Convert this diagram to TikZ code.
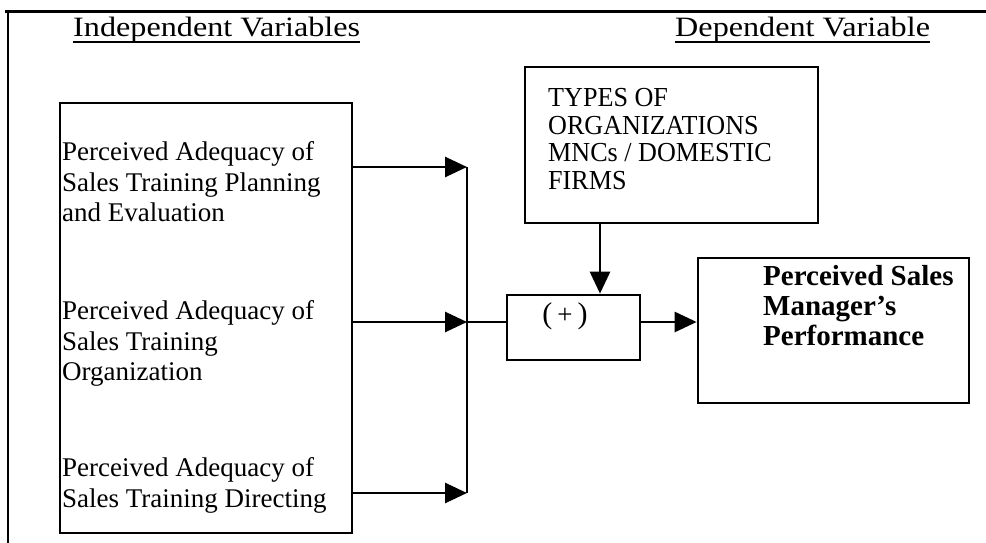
\documentclass[tikz,border=0pt]{standalone}
\usepackage{fontspec}
\setmainfont{Liberation Serif}
\newfontfamily\wideserif[FakeStretch=1.15]{Liberation Serif}
\newfontfamily\narrowserif[FakeStretch=0.95]{Liberation Serif}
\usetikzlibrary{arrows.meta}
\begin{document}
\begin{tikzpicture}[x=1pt,y=-1pt,
  box/.style={draw,line width=2.7pt,inner sep=0pt},
  conn/.style={line width=2.7pt},
  arr/.style={line width=2.7pt,-{Triangle[length=22pt,width=20pt]}},
  head/.style={anchor=base west,inner sep=0pt,font=\wideserif\fontsize{28}{30}\selectfont},
  bodytext/.style={anchor=north west,inner sep=0pt,align=left,font=\fontsize{27}{30.5}\selectfont},
  modtext/.style={anchor=north west,inner sep=0pt,align=left,font=\narrowserif\fontsize{27.5}{27.7}\selectfont},
  restext/.style={anchor=north west,inner sep=0pt,align=left,font=\bfseries\fontsize{29}{30}\selectfont}
]
\useasboundingbox (0,0) rectangle (986,543);
% frame
\draw[line width=3pt] (5,12) -- (986,12);
\draw[line width=2.5pt] (8,12) -- (8,543);

% headings
\node[head] (h1) at (73,37) {Independent Variables};
\node[head] (h2) at (675,37) {Dependent Variable};
\draw[line width=2pt] ([yshift=-5pt]h1.base west) -- ([yshift=-5pt]h1.base east);
\draw[line width=2pt] ([yshift=-5pt]h2.base west) -- ([yshift=-5pt]h2.base east);

% boxes
\node[box,minimum width=292pt,minimum height=430pt] (ind) at (206,318) {};
\node[box,minimum width=293pt,minimum height=156pt] (mod) at (671.5,145) {};
\node[box,minimum width=133pt,minimum height=65pt] (mid) at (573.5,327.5) {};
\node[box,minimum width=271pt,minimum height=145pt] (res) at (833.5,330.5) {};

% texts
\node[bodytext] (t1) at (62,141.5) {Perceived Adequacy of\\Sales Training Planning\\and Evaluation};
\node[bodytext] (t2) at (62,300.5) {Perceived Adequacy of\\Sales Training\\Organization};
\node[bodytext] (t3) at (62,457.5) {Perceived Adequacy of\\Sales Training Directing};
\node[modtext] (mt) at (548,88) {TYPES OF\\ORGANIZATIONS\\MNCs / DOMESTIC\\FIRMS};
\node[restext] (rt) at (763,265) {Perceived Sales\\Manager's\\Performance};
\node[inner sep=0pt,font=\fontsize{30}{32}\selectfont] (plus) at (565,316) {(\,{\fontsize{27}{28}\selectfont +}\,)};

% connectors
\coordinate (a1) at (467,167);
\coordinate (a2) at (467,322);
\coordinate (a3) at (467,493);
\coordinate (mx) at (600,0);
\draw[arr] (ind.east |- a1) -- (a1);
\draw[arr] (ind.east |- a2) -- (a2);
\draw[arr] (ind.east |- a3) -- (a3);
\draw[conn] (a1) -- (a3);
\draw[conn] (a2) -- (mid.west |- a2);
\draw[arr] (mid.east |- a2) -- (res.west |- a2);
\draw[arr] (mod.south -| mx) -- (mid.north -| mx);
\end{tikzpicture}
\end{document}
